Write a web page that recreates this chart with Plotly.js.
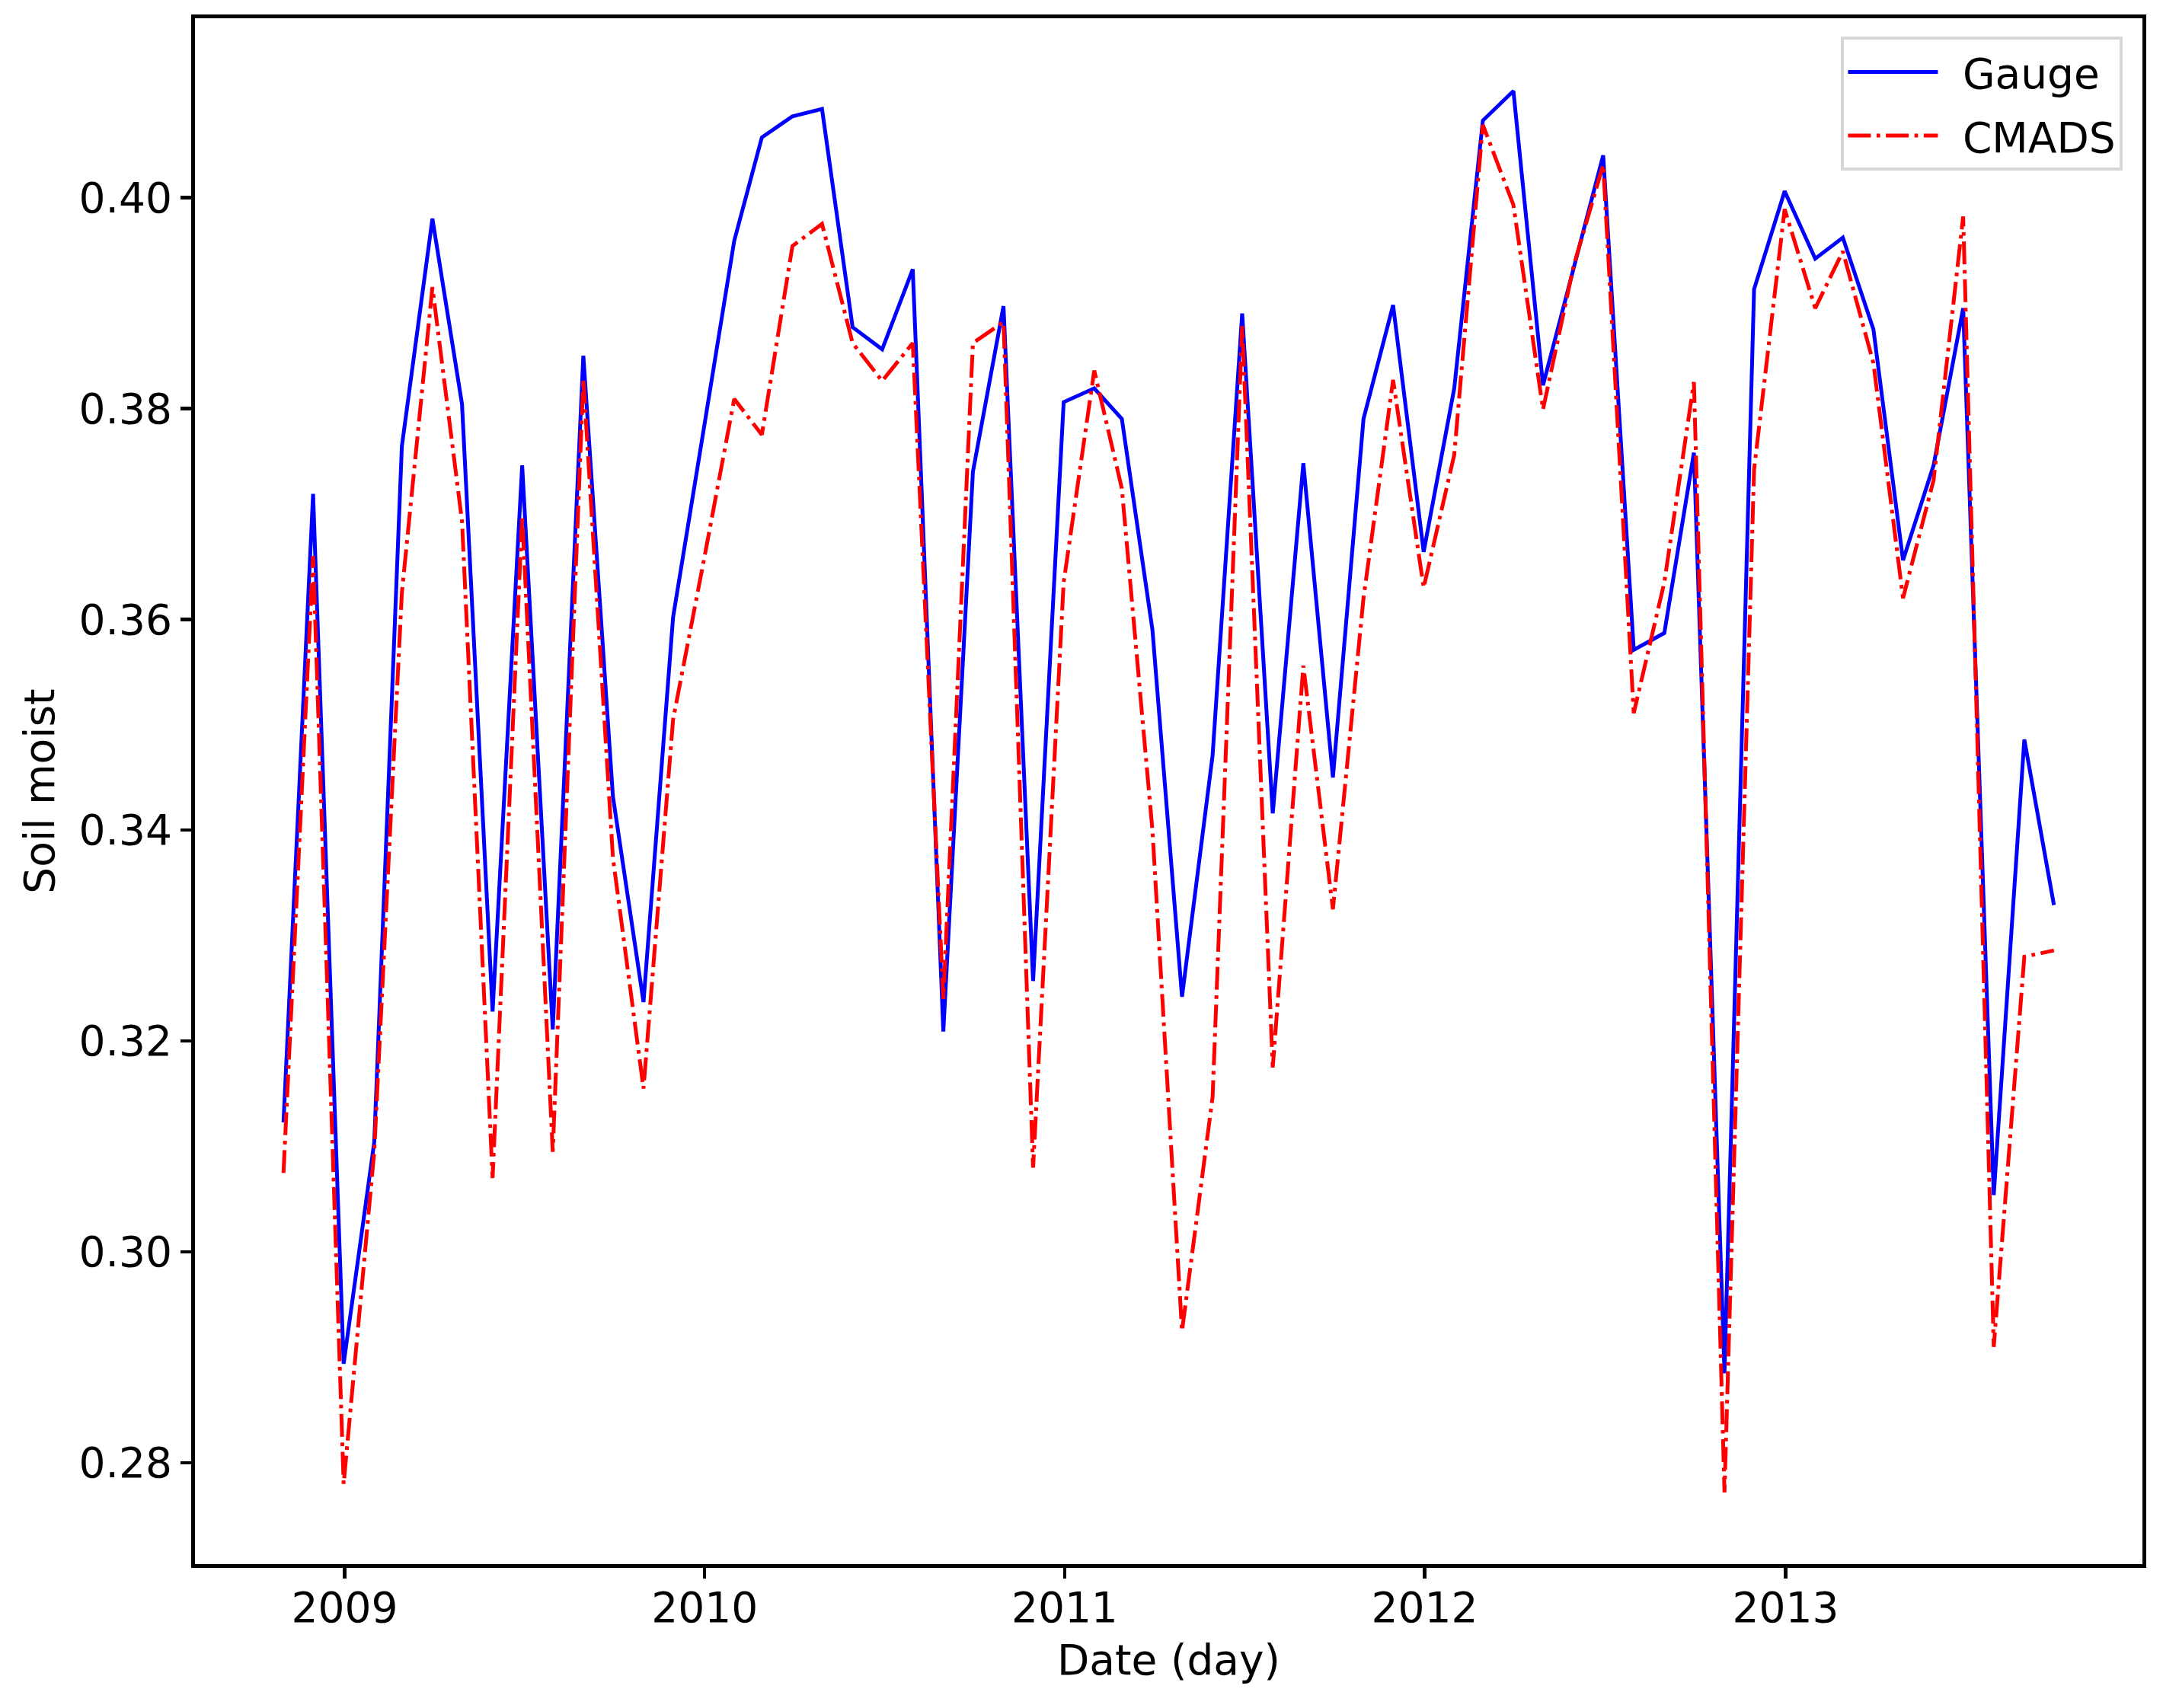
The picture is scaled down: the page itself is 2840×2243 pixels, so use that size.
<!DOCTYPE html>
<html>
<head>
<meta charset="utf-8">
<script src="https://cdn.plot.ly/plotly-3.0.1.min.js"></script>
<style>
  html, body { margin: 0; padding: 0; background: #fff; }
  #chart { width: 2840px; height: 2243px; }
</style>
</head>
<body>
<div id="chart"></div>
<script>
    // monthly series, one value per month end, Oct 2008 .. Sep 2013
    const startYear = 2008;
    const startMonth = 10;   // October
    const nMonths = 60;

    const gauge = [
        0.3123, 0.3719, 0.2894, 0.3104, 0.3764, 0.3980, 0.3804, 0.3228, 0.3746, 0.3211,
        0.3850, 0.3432, 0.3237, 0.3602, 0.3780, 0.3959, 0.4057, 0.4077, 0.4084, 0.3877,
        0.3856, 0.3932, 0.3209, 0.3740, 0.3897, 0.3257, 0.3806, 0.3819, 0.3790, 0.3590,
        0.3242, 0.3471, 0.3890, 0.3416, 0.3748, 0.3450, 0.3790, 0.3898, 0.3664, 0.3819,
        0.4073, 0.4101, 0.3822, 0.3933, 0.4040, 0.3571, 0.3587, 0.3758, 0.2885, 0.3913,
        0.4006, 0.3942, 0.3962, 0.3875, 0.3656, 0.3746, 0.3895, 0.3054, 0.3486, 0.3329
    ];
    const cmads = [
        0.3075, 0.3660, 0.2780, 0.3095, 0.3625, 0.3915, 0.3693, 0.3070, 0.3698, 0.3095,
        0.3828, 0.3374, 0.3155, 0.3505, 0.3655, 0.3809, 0.3775, 0.3954, 0.3975, 0.3862,
        0.3826, 0.3862, 0.3240, 0.3862, 0.3882, 0.3080, 0.3635, 0.3836, 0.3724, 0.3400,
        0.2925, 0.3147, 0.3878, 0.3175, 0.3556, 0.3325, 0.3620, 0.3827, 0.3630, 0.3756,
        0.4069, 0.3993, 0.3799, 0.3935, 0.4031, 0.3511, 0.3635, 0.3825, 0.2772, 0.3742,
        0.3989, 0.3895, 0.3949, 0.3843, 0.3620, 0.3732, 0.3982, 0.2910, 0.3280, 0.3286
    ];
    const yTicks = [0.28, 0.30, 0.32, 0.34, 0.36, 0.38, 0.40];
    const xTicks = ['2009-01-01', '2010-01-01', '2011-01-01', '2012-01-01', '2013-01-01'];
    const xTickLabels = ['2009', '2010', '2011', '2012', '2013'];

    const pad = n => (n < 10 ? '0' : '') + n;
    const monthEnd = (y, m) => {
        // day 0 of the next month is the last day of month m
        const d = new Date(Date.UTC(y, m, 0));
        return d.getUTCFullYear() + '-' + pad(d.getUTCMonth() + 1) + '-' + pad(d.getUTCDate());
    };
    const dates = [];
    for (let i = 0; i < nMonths; i++) {
        const m0 = startMonth - 1 + i;
        dates.push(monthEnd(startYear + Math.floor(m0 / 12), (m0 % 12) + 1));
    }

    const font = 'DejaVu Sans, sans-serif';
    const fs = 55;
    const gap = '\u2002';   // a bit of room between legend line and label

    const data = [
        {
            x: dates, y: gauge, name: gap + 'Gauge', legendgroup: 'g',
            type: 'scatter', mode: 'lines',
            line: {color: '#0000ff', width: 5}
        },
        {
            x: dates, y: cmads, name: gap + 'CMADS', legendgroup: 'c',
            type: 'scatter', mode: 'lines',
            line: {color: '#ff0000', width: 5, dash: '30px,7.5px,4.7px,7.5px'}
        }
    ];

    const layout = {
        width: 2840, height: 2243,
        paper_bgcolor: '#fff', plot_bgcolor: '#fff',
        margin: {l: 255.5, r: 26.5, t: 23.5, b: 188.5},
        font: {family: font, size: fs, color: '#000'},
        hovermode: false,
        showlegend: true,
        legend: {
            x: 0.990, y: 0.988, xanchor: 'right', yanchor: 'top',
            bgcolor: 'rgba(255,255,255,0.8)',
            bordercolor: '#d6d6d6', borderwidth: 4,
            font: {family: font, size: fs, color: '#000'},
            itemwidth: 118,
            traceorder: 'grouped', tracegroupgap: 9
        },
        xaxis: {
            type: 'date',
            range: ['2008-08-02 06:00', '2013-12-28 18:00'],
            tickvals: xTicks, ticktext: xTickLabels,
            ticks: 'outside', ticklen: 14, tickwidth: 4.5, tickcolor: '#000',
            ticklabelstandoff: -9,
            showline: true, linecolor: '#000', linewidth: 5, mirror: true,
            showgrid: false, zeroline: false,
            tickfont: {family: font, size: fs},
            title: {text: 'Date (day)', font: {family: font, size: fs}, standoff: 20}
        },
        yaxis: {
            range: [0.2704, 0.4170],
            tickvals: yTicks, tickformat: '.2f',
            ticks: 'outside', ticklen: 14, tickwidth: 4.5, tickcolor: '#000',
            showline: true, linecolor: '#000', linewidth: 5, mirror: true,
            showgrid: false, zeroline: false,
            tickfont: {family: font, size: fs},
            title: {text: 'Soil moist', font: {family: font, size: fs}, standoff: 16}
        }
    };

    Plotly.newPlot('chart', data, layout, {displayModeBar: false, staticPlot: true});
</script>
</body>
</html>
